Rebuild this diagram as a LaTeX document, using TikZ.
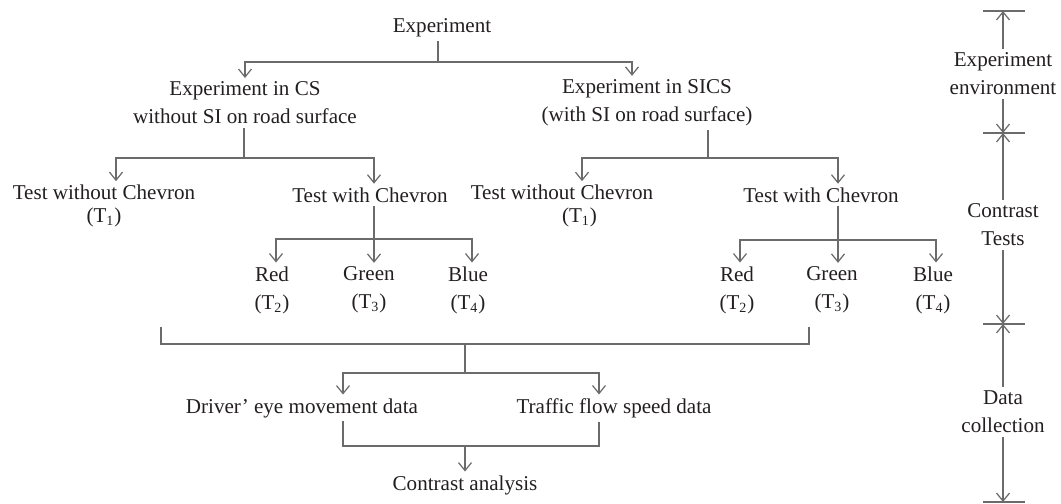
\documentclass[tikz,border=0pt]{standalone}
\usepackage{fontspec}
\setmainfont{Liberation Serif}
\usetikzlibrary{arrows.meta}
\definecolor{linegray}{gray}{0.42}
\definecolor{txtblack}{HTML}{231F20}

\begin{document}
\begin{tikzpicture}[
    box/.style={align=center, text=txtblack, font=\fontsize{12}{16}\selectfont, inner sep=2pt},
    link/.style={draw=linegray, line width=0.7pt},
    arr/.style={link, -{Straight Barb[length=1.6mm, width=2.6mm]}}
  ]
    \useasboundingbox (0, 0) rectangle (21.22, -10.08);

    % experiment tree
    \node[box] (exp) at (8.84, -0.56) {Experiment};
    \node[box] (cs) at (4.9, -2.06) {Experiment in CS\\without SI on road surface};
    \node[box] (sics) at (12.94, -2.06) {Experiment in SICS\\(with SI on road surface)};

    \node[box] (two1) at (2.08, -4.12) {Test without Chevron\\[-3pt](T\textsubscript{1})};
    \node[box] (twc1) at (7.4, -3.9) {Test with Chevron};
    \node[box] (two2) at (11.24, -4.12) {Test without Chevron\\[-3pt]\hspace*{0.7cm}(T\textsubscript{1})};
    \node[box] (twc2) at (16.42, -3.9) {Test with Chevron};

    \node[box] (red1) at (5.44, -5.8) {Red\\(T\textsubscript{2})};
    \node[box] (green1) at (7.38, -5.8) {Green\\(T\textsubscript{3})};
    \node[box] (blue1) at (9.36, -5.8) {Blue\\(T\textsubscript{4})};
    \node[box] (red2) at (14.74, -5.8) {Red\\(T\textsubscript{2})};
    \node[box] (green2) at (16.64, -5.8) {Green\\(T\textsubscript{3})};
    \node[box] (blue2) at (18.66, -5.8) {Blue\\(T\textsubscript{4})};

    \node[box] (driver) at (6.04, -8.16) {Driver' eye movement data};
    \node[box] (traffic) at (12.28, -8.16) {Traffic flow speed data};
    \node[box] (contrast) at (9.3, -9.7) {Contrast analysis};

    % junctions
    \coordinate (j1) at (8.76, -1.24);
    \coordinate (j2) at (4.88, -3.16);
    \coordinate (j3) at (14.16, -3.16);
    \coordinate (j4) at (7.48, -4.78);
    \coordinate (j5) at (16.76, -4.8);
    \coordinate (cl) at (3.22, -6.54);
    \coordinate (cr) at (16.18, -6.54);
    \coordinate (j6) at (9.3, -6.88);
    \coordinate (j7) at (9.3, -7.46);
    \coordinate (j8) at (9.3, -8.92);

    \draw[link] (exp.south -| j1) -- (j1);
    \draw[arr] (j1) -| (cs.north);
    \draw[arr] (j1) -| ([xshift=-3mm]sics.north);

    \draw[link] (cs.south -| j2) -- (j2);
    \draw[arr] (j2) -| ([xshift=2.4mm]two1.north);
    \draw[arr] (j2) -| ([xshift=0.8mm]twc1.north);
    \draw[link] (sics.south -| j3) -- (j3);
    \draw[arr] (j3) -| ([xshift=4mm]two2.north);
    \draw[arr] (j3) -| ([xshift=3.4mm]twc2.north);

    \draw[arr] (twc1.south -| j4) -- (green1.north -| j4);
    \draw[arr] (j4) -| ([xshift=0.8mm]red1.north);
    \draw[arr] (j4) -| ([xshift=0.8mm]blue1.north);
    \draw[arr] (twc2.south -| j5) -- (green2.north -| j5);
    \draw[arr] (j5) -| ([xshift=0.6mm]red2.north);
    \draw[arr] (j5) -| ([xshift=0.6mm]blue2.north);

    \draw[link] (cl) |- (j6) -| (cr);
    \draw[link] (j6) -- (j7);
    \draw[arr] (j7) -| ([xshift=8.2mm]driver.north);
    \draw[arr] (j7) -| ([xshift=-3mm]traffic.north);
    \draw[link] ([xshift=8.2mm]driver.south) |- (j8) -| ([xshift=-3mm]traffic.south);
    \draw[arr] (j8) -- (contrast);

    % stages on the right
    \node[box] (env) at (20.06, -1.48) {Experiment\\environment};
    \node[box] (tests) at (20.06, -4.5) {Contrast\\Tests};
    \node[box] (data) at (20.06, -8.24) {Data\\collection};
    \coordinate (r0) at (20.06, -0.22);
    \coordinate (r1) at (20.06, -2.66);
    \coordinate (r2) at (20.06, -6.48);
    \coordinate (r3) at (20.06, -10.04);
    \foreach \r in {r0, r1, r2, r3}
      \draw[link] ([xshift=-4mm]\r) -- ([xshift=4.4mm]\r);
    \draw[arr] (env) -- (r0);
    \draw[arr] (env) -- (r1);
    \draw[arr] (tests) -- (r1);
    \draw[arr] (tests) -- (r2);
    \draw[arr] (data) -- (r2);
    \draw[arr] (data) -- (r3);

  \end{tikzpicture}
\end{document}
